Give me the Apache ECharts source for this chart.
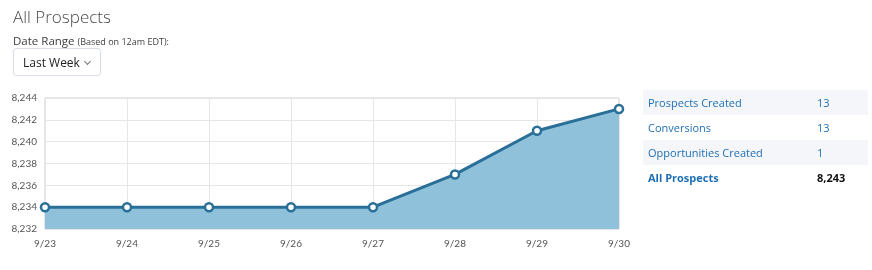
<!DOCTYPE html>
<html><head><meta charset="utf-8">
<script src="https://cdn.jsdelivr.net/npm/echarts@6/dist/echarts.min.js"></script>
<style>
html,body{margin:0;padding:0;background:#fff;width:872px;height:270px;overflow:hidden;font-family:"Open Sans","Noto Sans",sans-serif;}
#chart{position:absolute;left:0;top:0;width:872px;height:270px;}
#title{position:absolute;left:13px;top:5px;font-size:17px;font-weight:300;color:#4a4a4a;}
#dr{position:absolute;left:13px;top:33px;font-size:11.5px;color:#3e3e3c;}
#dr small{font-size:9px;}
#sel{position:absolute;left:13px;top:48px;width:88px;height:28px;border:1px solid #d8dde6;border-radius:3px;box-sizing:border-box;font-size:12px;color:#222;line-height:27px;padding-left:9px;}
#sel i{position:absolute;right:10px;top:10px;width:4px;height:4px;border-right:1px solid #777;border-bottom:1px solid #777;transform:rotate(45deg);}
#tbl{position:absolute;left:643px;top:90px;width:225px;border-collapse:collapse;font-size:11px;}
#tbl td{height:25px;padding:0;}
#tbl td.l{padding-left:5px;color:#1f6fb5;}
#tbl td.v{width:51px;color:#1f6fb5;}
#tbl tr:nth-child(odd){background:#f4f6f9;}
#tbl tr.b td{font-weight:bold;}
#tbl tr.b td.v{color:#111;}
</style></head>
<body>
<div id="chart"></div>
<div id="title">All Prospects</div>
<div id="dr">Date Range <small>(Based on 12am EDT):</small></div>
<div id="sel">Last Week<i></i></div>
<table id="tbl"></table>
<script>
var categories = ['9/23','9/24','9/25','9/26','9/27','9/28','9/29','9/30'];
var prospects = [8234, 8234, 8234, 8234, 8234, 8237, 8241, 8243];
var yTicks = [8232, 8234, 8236, 8238, 8240, 8242, 8244];
var tableLabels = ['Prospects Created','Conversions','Opportunities Created','All Prospects'];
var tableValues = ['13','13','1','8,243'];

var tbl = document.getElementById('tbl');
tableLabels.forEach(function(l,i){
  var tr = document.createElement('tr');
  if(i===tableLabels.length-1) tr.className='b';
  tr.innerHTML = '<td class="l">'+l+'</td><td class="v">'+tableValues[i]+'</td>';
  tbl.appendChild(tr);
});

var chart = echarts.init(document.getElementById('chart'));
chart.setOption({
  animation:false,
  grid:{left:45,right:253,top:98,bottom:41,show:true,borderColor:'#cccccc',borderWidth:1},
  xAxis:{type:'category',data:categories,boundaryGap:false,
    axisLine:{show:false},axisTick:{show:false},
    splitLine:{show:true,lineStyle:{color:'#e6e6e6'}},
    axisLabel:{color:'#555',fontSize:10,margin:10,fontFamily:'Lato, DejaVu Sans, sans-serif'}},
  yAxis:{type:'value',min:yTicks[0],max:yTicks[yTicks.length-1],interval:2,
    axisLine:{show:false},axisTick:{show:false},
    splitLine:{lineStyle:{color:'#e6e6e6'}},
    axisLabel:{color:'#555',fontSize:10,margin:8,fontFamily:'Lato, DejaVu Sans, sans-serif',
      formatter:function(v){return v.toLocaleString('en-US');}}},
  series:[{type:'line',data:prospects,symbol:'circle',symbolSize:8,
    lineStyle:{color:'#2a6f98',width:3},
    itemStyle:{color:'#ffffff',borderColor:'#2a6f98',borderWidth:2.5},
    areaStyle:{color:'#8fc1da',opacity:1}}]
});
</script>
</body></html>
